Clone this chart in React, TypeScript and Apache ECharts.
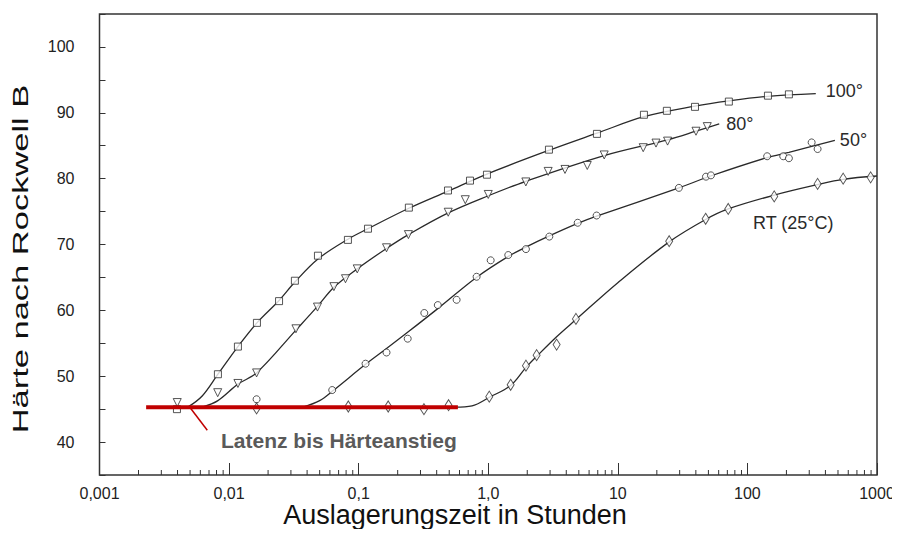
import React, { useEffect, useRef } from "react";
import * as echarts from "echarts";

// Axis ticks and labels
const xTickValues = [0.001, 0.01, 0.1, 1, 10, 100, 1000];
const xTickLabels = ["0,001", "0,01", "0,1", "1,0", "10", "100", "1000"];
const yTickLabels = [40, 50, 60, 70, 80, 90, 100];

const xTitle = "Auslagerungszeit in Stunden";
const yTitle = "Härte nach Rockwell B";

// Ageing temperatures
const seriesNames = ["100°", "80°", "50°", "RT (25°C)"];

// Measured hardness [hours, HRB]
const marks100 = [
  [0.00396, 45.0], [0.0082, 50.3], [0.0117, 54.5], [0.0164, 58.1], [0.0243, 61.4],
  [0.0322, 64.5], [0.0485, 68.3], [0.0826, 70.7], [0.118, 72.4], [0.244, 75.6],
  [0.489, 78.2], [0.723, 79.7], [0.977, 80.6], [2.94, 84.4], [6.9, 86.8],
  [15.9, 89.7], [23.9, 90.3], [39.4, 90.9], [71.9, 91.7], [144, 92.6], [209, 92.8],
];
const marks80 = [
  [0.00398, 46.0], [0.00817, 47.5], [0.0117, 48.9], [0.0163, 50.5], [0.0328, 57.2],
  [0.0481, 60.5], [0.0644, 63.6], [0.0791, 64.8], [0.0975, 66.3], [0.164, 69.5],
  [0.242, 71.5], [0.491, 74.9], [0.665, 76.8], [1.0, 77.6], [1.95, 79.5],
  [2.9, 81.1], [3.91, 81.4], [5.81, 82.0], [7.85, 83.6], [15.7, 84.7],
  [19.7, 85.4], [24.2, 85.7], [40.1, 87.2], [49.0, 87.9],
];
const marks50 = [
  [0.0163, 46.5], [0.0625, 47.9], [0.113, 51.9], [0.164, 53.6], [0.239, 55.7],
  [0.321, 59.6], [0.408, 60.8], [0.57, 61.6], [0.813, 65.1], [1.044, 67.6],
  [1.427, 68.4], [1.954, 69.3], [2.96, 71.2], [4.9, 73.3], [6.86, 74.4],
  [29.6, 78.6], [47.9, 80.3], [52.3, 80.5], [142, 83.4], [189, 83.4],
  [209, 83.1], [313, 85.5], [348, 84.5],
];
const marksRT = [
  [0.0163, 45.1], [0.0832, 45.4], [0.169, 45.4], [0.319, 45.0], [0.494, 45.6],
  [1.018, 46.9], [1.489, 48.7], [1.954, 51.6], [2.362, 53.2], [3.37, 54.8],
  [4.75, 58.7], [24.9, 70.5], [47.6, 73.9], [71.1, 75.4], [161, 77.3],
  [348, 79.2], [548, 80.0], [893, 80.2],
];

// Fitted curves [hours, HRB]
const curve100 = [
  [0.0048, 45.3], [0.0062, 47.0], [0.0082, 50.3], [0.0117, 54.5], [0.0164, 58.1],
  [0.0243, 61.5], [0.0322, 64.3], [0.0485, 67.8], [0.0826, 70.8], [0.118, 72.4],
  [0.244, 75.5], [0.489, 78.1], [0.977, 80.7], [2.94, 84.3], [6.9, 86.9],
  [15.9, 89.4], [39.4, 91.0], [71.9, 91.8], [144, 92.5], [337, 92.9],
];
const curve80 = [
  [0.0062, 45.3], [0.0082, 46.3], [0.0117, 48.8], [0.0163, 50.5], [0.0328, 57.0],
  [0.0481, 60.6], [0.0644, 63.5], [0.0975, 66.3], [0.164, 69.4], [0.242, 71.5],
  [0.491, 74.8], [1.0, 77.4], [1.95, 79.6], [7.85, 83.5], [24.2, 85.9],
  [40.1, 87.2], [60.6, 88.3],
];
const curve50 = [
  [0.0371, 45.3], [0.05, 46.3], [0.0625, 47.7], [0.113, 51.8], [0.164, 54.2],
  [0.24, 56.7], [0.41, 60.3], [0.81, 65.0], [1.43, 68.2], [1.95, 69.6],
  [2.96, 71.3], [4.9, 73.2], [6.86, 74.3], [29.6, 78.6], [52, 80.4],
  [142, 83.2], [209, 84.0], [473, 85.8],
];
const curveRT = [
  [0.0163, 45.3], [0.55, 45.3], [0.75, 45.5], [1.02, 46.8], [1.49, 48.6],
  [1.95, 51.3], [2.36, 53.0], [3.37, 56.0], [4.75, 58.6], [10, 64.2],
  [24.9, 70.4], [47.6, 73.8], [71.1, 75.4], [161, 77.5], [348, 79.1],
  [548, 79.9], [1000, 80.4],
];

// Latency annotation
const latencyLine = [[0.00229, 45.3], [0.583, 45.3]];
const latencyPointer = [[0.00506, 45.1], [0.00679, 41.8]];
const latencyText = "Latenz bis Härteanstieg";

const FONT = "'Liberation Sans', Arial, Helvetica, sans-serif";
const INK = "#2a2a2a";
const RED = "#c00000";

// minor log ticks 2..9 within each decade
const minorTicks: number[][] = [];
for (let e = -3; e < 3; e++) {
  for (let m = 2; m <= 9; m++) minorTicks.push([m * Math.pow(10, e), 35]);
}

function curveSeries(name: string, data: number[][], label?: { dist: number; dy: number }) {
  return {
    type: "line",
    name,
    data,
    smooth: 0.35,
    showSymbol: false,
    silent: true,
    lineStyle: { color: INK, width: 1.3 },
    z: 2,
    endLabel: label
      ? {
          show: true,
          formatter: name,
          distance: label.dist,
          offset: [0, label.dy],
          fontFamily: FONT,
          fontSize: 18,
          color: INK,
        }
      : { show: false },
  };
}

function markSeries(name: string, data: number[][], symbol: string, size: any, rotate = 0) {
  return {
    type: "scatter",
    name,
    data,
    symbol,
    symbolSize: size,
    symbolRotate: rotate,
    itemStyle: { color: "#ffffff", borderColor: INK, borderWidth: 1 },
    z: 3,
  };
}

export default function App() {
  const ref = useRef<HTMLDivElement>(null);

  useEffect(() => {
    if (!ref.current) return;
    const chart = echarts.init(ref.current, undefined, { renderer: "svg" });

    const option: any = {
      animation: false,
      backgroundColor: "#ffffff",
      grid: {
        left: 99.5,
        right: 23,
        top: 14,
        bottom: 62,
        show: true,
        borderColor: "#333",
        borderWidth: 1.5,
        backgroundColor: "transparent",
      },
      xAxis: {
        type: "log",
        logBase: 10,
        min: xTickValues[0],
        max: xTickValues[xTickValues.length - 1],
        splitNumber: 6,
        axisLine: { show: false },
        splitLine: { show: false },
        axisTick: { show: true, inside: true, length: 12, lineStyle: { color: "#333", width: 1 } },
        axisLabel: {
          margin: 10,
          fontFamily: FONT,
          fontSize: 16,
          color: "#222",
          formatter: (v: number) => {
            const i = Math.round(Math.log10(v)) + 3;
            return xTickLabels[i] ?? "";
          },
        },
      },
      yAxis: {
        type: "value",
        min: 35,
        max: 105,
        interval: 5,
        axisLine: { show: false },
        splitLine: { show: false },
        axisTick: { show: true, inside: true, length: 6, lineStyle: { color: "#333", width: 1 } },
        axisLabel: {
          margin: 25,
          fontFamily: FONT,
          fontSize: 16,
          color: "#222",
          formatter: (v: number) => (yTickLabels.includes(Math.round(v)) ? String(Math.round(v)) : ""),
        },
      },
      series: [
        {
          type: "custom",
          data: minorTicks,
          silent: true,
          z: 1,
          renderItem: (_params: any, api: any) => {
            const p = api.coord([api.value(0), api.value(1)]);
            return {
              type: "line",
              shape: { x1: p[0], y1: p[1], x2: p[0], y2: p[1] - 5 },
              style: { stroke: "#333", lineWidth: 1 },
            };
          },
        },
        curveSeries(seriesNames[0], curve100, { dist: 10, dy: -3 }),
        curveSeries(seriesNames[1], curve80, { dist: 7, dy: 0 }),
        curveSeries(seriesNames[2], curve50, { dist: 5, dy: 0 }),
        curveSeries(seriesNames[3], curveRT),
        markSeries(seriesNames[0], marks100, "rect", 7),
        markSeries(seriesNames[1], marks80, "triangle", [8, 8], 180),
        markSeries(seriesNames[2], marks50, "circle", 7),
        markSeries(seriesNames[3], marksRT, "diamond", [7, 11]),
        {
          type: "line",
          name: "latency",
          data: latencyLine,
          showSymbol: false,
          silent: true,
          lineStyle: { color: RED, width: 4 },
          z: 5,
        },
        {
          type: "line",
          name: "pointer",
          data: latencyPointer,
          showSymbol: false,
          silent: true,
          lineStyle: { color: RED, width: 1.5 },
          z: 5,
        },
      ],
      graphic: [
        {
          type: "text",
          x: 221,
          y: 440,
          z: 10,
          style: {
            text: latencyText,
            font: `bold 21px ${FONT}`,
            fill: "#5a5a5a",
            align: "left",
            verticalAlign: "middle",
          },
        },
        {
          type: "text",
          x: 753,
          y: 223,
          z: 10,
          style: {
            text: seriesNames[3],
            font: `18px ${FONT}`,
            fill: INK,
            align: "left",
            verticalAlign: "middle",
          },
        },
        {
          type: "text",
          x: 455,
          y: 515,
          z: 10,
          style: {
            text: xTitle,
            font: `27px ${FONT}`,
            fill: "#111",
            align: "center",
            verticalAlign: "middle",
          },
        },
        {
          type: "text",
          x: 20,
          y: 259,
          rotation: Math.PI / 2,
          scaleX: 1.5,
          z: 10,
          style: {
            text: yTitle,
            font: `23px ${FONT}`,
            fill: "#111",
            align: "center",
            verticalAlign: "middle",
          },
        },
      ],
    };

    chart.setOption(option);
    return () => chart.dispose();
  }, []);

  return <div ref={ref} style={{ width: 900, height: 537, margin: -8 }} />;
}
